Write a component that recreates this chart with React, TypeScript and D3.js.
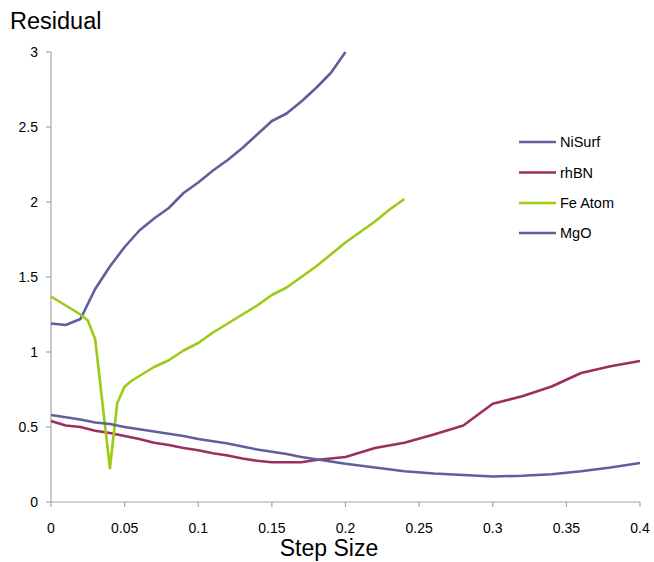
import React from "react";
import * as d3 from "d3";

const niSurfX = [0, 0.01, 0.02, 0.03, 0.04, 0.05, 0.06, 0.07, 0.08, 0.09, 0.1, 0.11, 0.12, 0.13, 0.14, 0.15, 0.16, 0.17, 0.18, 0.19, 0.2];
const niSurfY = [1.19, 1.18, 1.22, 1.42, 1.57, 1.70, 1.81, 1.89, 1.96, 2.06, 2.13, 2.21, 2.28, 2.36, 2.45, 2.54, 2.59, 2.67, 2.76, 2.86, 3.0];

const rhBNX = [0, 0.01, 0.02, 0.03, 0.04, 0.05, 0.06, 0.07, 0.08, 0.09, 0.1, 0.11, 0.12, 0.13, 0.14, 0.15, 0.16, 0.17, 0.18, 0.2, 0.22, 0.24, 0.26, 0.28, 0.3, 0.32, 0.34, 0.36, 0.38, 0.4];
const rhBNY = [0.54, 0.51, 0.5, 0.475, 0.46, 0.44, 0.42, 0.395, 0.38, 0.36, 0.345, 0.325, 0.31, 0.29, 0.275, 0.265, 0.265, 0.265, 0.28, 0.3, 0.36, 0.395, 0.45, 0.51, 0.655, 0.705, 0.77, 0.86, 0.905, 0.94];

const feAtomX = [0, 0.01, 0.02, 0.025, 0.03, 0.04, 0.045, 0.05, 0.055, 0.06, 0.07, 0.08, 0.09, 0.1, 0.11, 0.12, 0.13, 0.14, 0.15, 0.16, 0.17, 0.18, 0.19, 0.2, 0.21, 0.22, 0.23, 0.24];
const feAtomY = [1.37, 1.31, 1.25, 1.21, 1.085, 0.225, 0.66, 0.77, 0.81, 0.84, 0.9, 0.945, 1.01, 1.06, 1.13, 1.19, 1.25, 1.31, 1.38, 1.43, 1.5, 1.57, 1.65, 1.73, 1.8, 1.87, 1.95, 2.02];

const mgOX = [0, 0.01, 0.02, 0.03, 0.04, 0.05, 0.06, 0.07, 0.08, 0.09, 0.1, 0.11, 0.12, 0.13, 0.14, 0.15, 0.16, 0.17, 0.18, 0.2, 0.22, 0.24, 0.26, 0.28, 0.3, 0.32, 0.34, 0.36, 0.38, 0.4];
const mgOY = [0.58, 0.565, 0.55, 0.53, 0.52, 0.5, 0.485, 0.47, 0.455, 0.44, 0.42, 0.405, 0.39, 0.37, 0.35, 0.335, 0.32, 0.3, 0.285, 0.255, 0.23, 0.205, 0.19, 0.18, 0.17, 0.175, 0.185, 0.205, 0.23, 0.26];

const seriesNames = ["NiSurf", "rhBN", "Fe Atom", "MgO"];
const seriesColors = ["#5F5FA0", "#9C2F62", "#9BCB12", "#5F5FA0"];

const xTicks = [0, 0.05, 0.1, 0.15, 0.2, 0.25, 0.3, 0.35, 0.4];
const xTickLabels = ["0", "0.05", "0.1", "0.15", "0.2", "0.25", "0.3", "0.35", "0.4"];
const yTicks = [0, 0.5, 1, 1.5, 2, 2.5, 3];
const yTickLabels = ["0", "0.5", "1", "1.5", "2", "2.5", "3"];

export default function App() {
  const W = 654, H = 562;
  const x = d3.scaleLinear().domain([0, 0.4]).range([51, 640]);
  const y = d3.scaleLinear().domain([0, 3]).range([502, 52]);
  const font = "'Liberation Sans', Arial, sans-serif";
  const axisColor = "#A6A6A6";

  const series = [
    { xs: niSurfX, ys: niSurfY },
    { xs: rhBNX, ys: rhBNY },
    { xs: feAtomX, ys: feAtomY },
    { xs: mgOX, ys: mgOY },
  ];
  const line = d3.line<[number, number]>().x((d) => x(d[0])).y((d) => y(d[1]));

  const legendY = [142, 172.5, 203, 233];

  return (
    <svg width={W} height={H} style={{ position: "absolute", left: 0, top: 0, background: "#fff" }}>
      <rect x={0} y={0} width={W} height={H} fill="#fff" />
      <text x={10} y={29} fontFamily={font} fontSize={23.5} fill="#000">Residual</text>
      {/* y axis */}
      <line x1={x(0)} x2={x(0)} y1={y(3)} y2={y(0)} stroke={axisColor} strokeWidth={1.2} />
      {yTicks.map((t, i) => (
        <g key={"y" + i}>
          <line x1={x(0) - 5} x2={x(0)} y1={y(t)} y2={y(t)} stroke={axisColor} strokeWidth={1.2} />
          <text x={38} y={y(t) + 5} textAnchor="end" fontFamily={font} fontSize={14} fill="#000">{yTickLabels[i]}</text>
        </g>
      ))}
      {/* x axis */}
      <line x1={x(0)} x2={x(0.4)} y1={y(0)} y2={y(0)} stroke={axisColor} strokeWidth={1.2} />
      {xTicks.map((t, i) => (
        <g key={"x" + i}>
          <line x1={x(t)} x2={x(t)} y1={y(0)} y2={y(0) + 5} stroke={axisColor} strokeWidth={1.2} />
          <text x={x(t)} y={532.5} textAnchor="middle" fontFamily={font} fontSize={14} fill="#000">{xTickLabels[i]}</text>
        </g>
      ))}
      <text x={329} y={556} textAnchor="middle" fontFamily={font} fontSize={23} fill="#000">Step Size</text>
      {/* series */}
      {series.map((s, i) => (
        <path
          key={"s" + i}
          d={line(s.xs.map((v, j) => [v, s.ys[j]] as [number, number])) || ""}
          fill="none"
          stroke={seriesColors[i]}
          strokeWidth={2.6}
          strokeLinejoin="round"
        />
      ))}
      {/* legend */}
      {seriesNames.map((n, i) => (
        <g key={"l" + i}>
          <line x1={519} x2={556} y1={legendY[i]} y2={legendY[i]} stroke={seriesColors[i]} strokeWidth={2.6} />
          <text x={560} y={legendY[i] + 5} fontFamily={font} fontSize={14.5} fill="#000">{n}</text>
        </g>
      ))}
    </svg>
  );
}
